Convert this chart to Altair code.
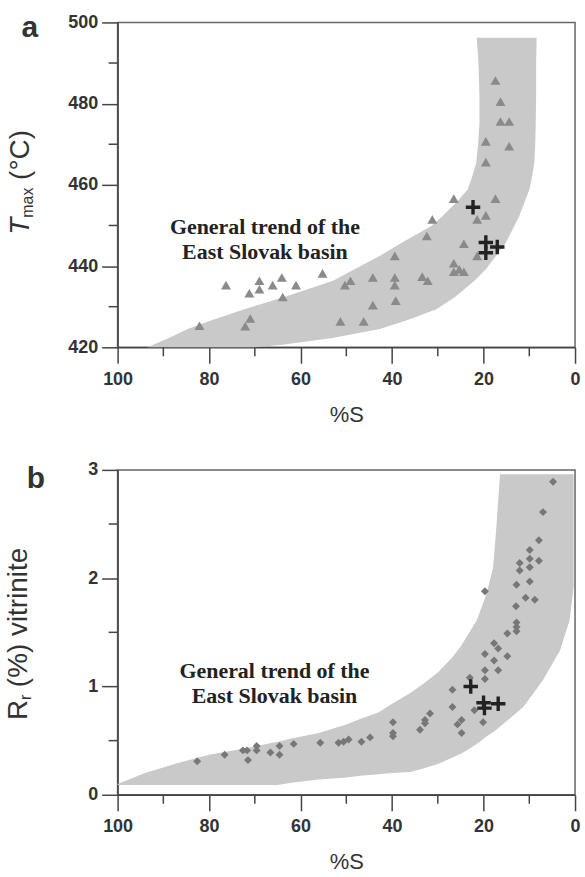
import altair as alt
import pandas as pd

# ---------------- Panel a data ----------------
band_a_T = [420, 420.6, 422.3, 424.5, 426.6, 429.4, 432.3, 436.4, 439.2, 442.5, 445.8,
            449.8, 452.3, 455.6, 458.8, 462, 465.4, 470, 475, 482, 490, 496.2]
band_a_outer = [70, 64, 53, 42.7, 36.9, 30.3, 26.3, 22.0, 19.5, 17.3, 15.1,
                13.3, 12.2, 11.1, 10.0, 9.4, 8.9, 8.7, 8.6, 8.5, 8.5, 8.4]
band_a_inner = [93.5, 92.2, 88.8, 84.7, 79.6, 72.3, 63.7, 52.9, 48.2, 42.7, 37.8,
                31.5, 29.0, 26.0, 23.5, 22.5, 21.6, 21.2, 20.9, 20.9, 21.1, 21.5]

tri_S = [17.4, 16.3, 16.3, 14.4, 19.5, 14.4, 19.5, 26.5, 17.4, 19.5, 21.4, 31.2, 32.4, 24.3,
         39.4, 21.4, 26.5, 25.3, 26.5, 24.3, 55.2, 64.1, 76.3, 69.0, 69.0, 66.1, 61.0, 71.2,
         63.9, 50.3, 49.1, 44.2, 39.4, 39.4, 33.4, 32.2, 44.2, 39.2, 71.0, 72.1, 82.1, 51.3, 46.2]
tri_T = [485.7, 480.5, 475.6, 475.6, 470.7, 469.5, 465.6, 456.6, 456.6, 452.5, 451.5, 451.5, 447.4, 445.5,
         442.5, 442.5, 440.7, 439.2, 438.6, 438.6, 438.2, 437.2, 435.3, 436.4, 434.3, 435.3, 435.3, 433.3,
         432.4, 435.3, 436.4, 437.2, 437.2, 435.3, 437.4, 436.4, 430.4, 431.5, 427.1, 425.2, 425.3, 426.4, 426.4]

cross_a_S = [22.3, 19.5, 19.5, 17.0]
cross_a_T = [454.5, 445.8, 443.3, 444.7]

# ---------------- Panel b data ----------------
band_b_S = [100, 94, 87, 80, 72, 65, 62, 56, 50, 47, 43, 40, 36, 33, 30, 27, 25, 23.7,
            21.5, 19.3, 17.9, 17.2, 16.4, 11.3, 7, 3.3, 1.2, 0.3]
band_b_lower = [0.09, 0.09, 0.09, 0.09, 0.09, 0.09, 0.11, 0.14, 0.16, 0.175, 0.19, 0.20, 0.21, 0.245,
                0.285, 0.34, 0.38, 0.41, 0.47, 0.54, 0.58, 0.60, 0.63, 0.81, 1.06, 1.33, 1.61, 1.92]
band_b_upper = [0.10, 0.20, 0.29, 0.37, 0.43, 0.49, 0.52, 0.57, 0.65, 0.70, 0.76, 0.84, 0.94, 1.03,
                1.13, 1.26, 1.37, 1.46, 1.61, 1.86, 2.10, 2.47, 2.96, 2.96, 2.96, 2.96, 2.96, 2.96]

dia_S = [4.8, 7.0, 7.9, 9.9, 12.1, 9.9, 9.9, 7.9, 12.1, 12.8, 9.9, 19.7, 10.8, 8.8, 12.9, 12.8, 12.8,
         12.8, 14.8, 17.7, 16.8, 19.7, 14.8, 17.7, 19.7, 16.8, 19.7, 23.0, 26.8, 26.8, 22.0, 20.1, 31.7,
         32.8, 32.8, 33.9, 24.8, 25.7, 24.8, 39.8, 39.8, 39.8, 44.8, 46.7, 49.5, 50.6, 51.7, 55.7, 61.5,
         64.6, 64.6, 66.6, 69.6, 69.6, 71.7, 72.6, 71.5, 76.6, 82.6]
dia_R = [2.89, 2.61, 2.35, 2.26, 2.14, 2.18, 2.10, 2.16, 2.07, 1.94, 1.97, 1.88, 1.82, 1.80, 1.74, 1.59, 1.55,
         1.51, 1.49, 1.40, 1.35, 1.30, 1.28, 1.24, 1.15, 1.15, 1.07, 1.08, 0.97, 0.81, 0.78, 0.67, 0.75,
         0.69, 0.66, 0.60, 0.69, 0.65, 0.57, 0.67, 0.57, 0.54, 0.53, 0.49, 0.51, 0.49, 0.48, 0.48, 0.47,
         0.45, 0.37, 0.39, 0.45, 0.41, 0.41, 0.41, 0.32, 0.37, 0.31]

cross_b_S = [22.8, 20.0, 19.8, 16.8]
cross_b_R = [1.0, 0.85, 0.80, 0.84]

# tick positions
x_major = [0, 20, 40, 60, 80, 100]
x_minor = [10, 30, 50, 70, 90]
ya_major = [420, 440, 460, 480, 500]
ya_minor = [430, 450, 470, 490]
yb_major = [0, 1, 2, 3]
yb_minor = [0.5, 1.5, 2.5]

W, H = 459, 326
BAND = "#c9c9c9"
PT_A = "#8a8a8a"
PT_B = "#777777"
DARK = "#222222"
AXC = "#444444"
PLUS = "M-1,0L1,0M0,-1L0,1"

AX = dict(labelFont="Liberation Sans", labelFontWeight="bold", labelFontSize=18, labelColor="#333333",
          titleFont="Liberation Sans", titleFontWeight="normal", titleFontSize=22, titleColor="#333333",
          domainColor=AXC, domainWidth=1.5, tickColor=AXC, tickWidth=1.5, tickSize=16, grid=False,
          labelOverlap=False)

xscale = alt.Scale(domain=[0, 100], reverse=True, nice=False, zero=False)
xaxis = alt.Axis(values=x_major, format="d", labelPadding=7, titlePadding=16, labelFlush=False, **AX)


def X(field):
    return alt.X(f"{field}:Q", scale=xscale, axis=xaxis, title="%S")


def text_layer(txt, x, y, size, angle=0, style="normal", weight="normal", align="center",
               font="Liberation Sans", color="#333333"):
    kw = dict(font=font, fontSize=size, fontStyle=style, fontWeight=weight, align=align,
              baseline="middle", color=color)
    if angle:
        kw["angle"] = angle
    return alt.Chart(pd.DataFrame({"t": [txt]})).mark_text(**kw).encode(
        text="t:N", x=alt.value(x), y=alt.value(y))


def minor_x(vals):
    return alt.Chart(pd.DataFrame({"v": vals})).mark_rule(color=AXC, strokeWidth=1.5).encode(
        x=X("v"), y=alt.value(H), y2=alt.value(H + 9))


def minor_y(vals, Yf):
    return alt.Chart(pd.DataFrame({"v": vals})).mark_rule(color=AXC, strokeWidth=1.5).encode(
        y=Yf("v"), x=alt.value(0), x2=alt.value(-9))


# ---------------- Panel a ----------------
ya_scale = alt.Scale(domain=[420, 500], nice=False, zero=False)
ya_axis = alt.Axis(values=ya_major, format="d", labelPadding=4, title=None, **AX)


def YA(field):
    return alt.Y(f"{field}:Q", scale=ya_scale, axis=ya_axis)


band_a = alt.Chart(pd.DataFrame({"T": band_a_T, "So": band_a_outer, "Si": band_a_inner})).mark_area(
    orient="horizontal", color=BAND, opacity=1).encode(
    y=YA("T"), x=X("So"), x2="Si:Q")

tri_a = alt.Chart(pd.DataFrame({"S": tri_S, "T": tri_T})).mark_point(
    shape="triangle-up", filled=True, size=100, color=PT_A, opacity=1).encode(
    x=X("S"), y=YA("T"))

cr_a = alt.Chart(pd.DataFrame({"S": cross_a_S, "T": cross_a_T})).mark_point(
    shape=PLUS, filled=False, size=210, strokeWidth=3.4, color=DARK, opacity=1).encode(
    x=X("S"), y=YA("T"))

lab_a = alt.Chart(pd.DataFrame({"S": [67.8], "T": [449.6],
                                "t": ["General trend of the\nEast Slovak basin"]})).mark_text(
    font="Liberation Serif", fontWeight="bold", fontSize=22, lineBreak="\n", lineHeight=25,
    align="center", baseline="middle", color=DARK).encode(
    x=X("S"), y=YA("T"), text="t:N")

panel_a = alt.layer(
    band_a, tri_a, cr_a, lab_a, minor_x(x_minor), minor_y(ya_minor, YA),
    text_layer("a", -88, 6, 30, weight="bold"),
    text_layer("T", -97, 213, 28, angle=270, style="italic", align="left"),
    text_layer("max", -90, 196, 16, angle=270, align="left"),
    text_layer("(°C)", -97, 158, 28, angle=270, align="left"),
).properties(width=W, height=H)

# ---------------- Panel b ----------------
yb_scale = alt.Scale(domain=[0, 3], nice=False, zero=False)
yb_axis = alt.Axis(values=yb_major, format="d", labelPadding=4, title=None, **AX)


def YB(field):
    return alt.Y(f"{field}:Q", scale=yb_scale, axis=yb_axis)


band_b = alt.Chart(pd.DataFrame({"S": band_b_S, "lo": band_b_lower, "hi": band_b_upper})).mark_area(
    color=BAND, opacity=1).encode(
    x=X("S"), y=YB("lo"), y2="hi:Q")

dia_b = alt.Chart(pd.DataFrame({"S": dia_S, "R": dia_R})).mark_point(
    shape="diamond", filled=True, size=64, color=PT_B, opacity=1).encode(
    x=X("S"), y=YB("R"))

cr_b = alt.Chart(pd.DataFrame({"S": cross_b_S, "R": cross_b_R})).mark_point(
    shape=PLUS, filled=False, size=210, strokeWidth=3.4, color=DARK, opacity=1).encode(
    x=X("S"), y=YB("R"))

lab_b = alt.Chart(pd.DataFrame({"S": [65.7], "R": [1.145],
                                "t": ["General trend of the\nEast Slovak basin"]})).mark_text(
    font="Liberation Serif", fontWeight="bold", fontSize=22, lineBreak="\n", lineHeight=25,
    align="center", baseline="middle", color=DARK).encode(
    x=X("S"), y=YB("R"), text="t:N")

panel_b = alt.layer(
    band_b, dia_b, cr_b, lab_b, minor_x(x_minor), minor_y(yb_minor, YB),
    text_layer("b", -82, 9, 30, weight="bold"),
    text_layer("R", -99, 251, 28, angle=270, align="left"),
    text_layer("r", -92, 231, 16, angle=270, align="left"),
    text_layer("(%) vitrinite", -99, 218, 28, angle=270, align="left"),
).properties(width=W, height=H)

chart = alt.vconcat(panel_a, panel_b, spacing=34).properties(
    padding={"left": 4, "top": 11, "right": 4, "bottom": 0}, background="white"
).configure_view(stroke="#666666", strokeWidth=1.5)

chart.save("out.html", embed_options={"renderer": "svg", "actions": False})
